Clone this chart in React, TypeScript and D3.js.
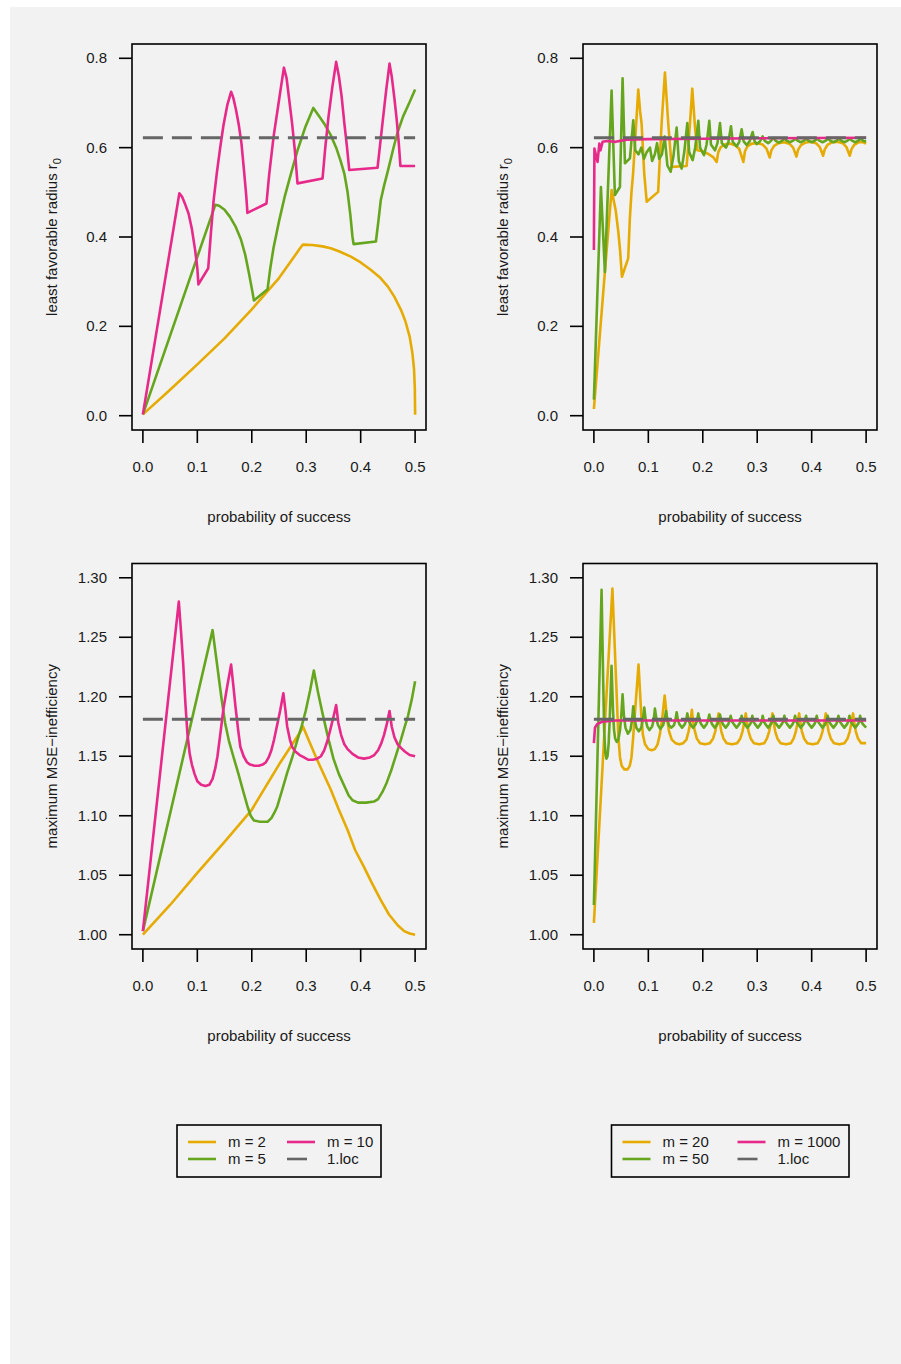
import React from 'react';
import * as d3 from 'd3';

type Pt = [number, number];

const COLORS = { m2: '#E6AB02', m5: '#66A61E', m10: '#E7298A', loc: '#666666' };

const xTicks = [0, 0.1, 0.2, 0.3, 0.4, 0.5];
const rTicks = [0, 0.2, 0.4, 0.6, 0.8];
const effTicks = [1.0, 1.05, 1.1, 1.15, 1.2, 1.25, 1.3];

const locRadius = 0.622;
const locEff = 1.181;

// ---- top-left: least favorable radius, small m ----
const rM2: Pt[] = [[0,0.003],[0.05,0.058],[0.1,0.115],[0.15,0.173],[0.2,0.238],[0.25,0.308],[0.29,0.377],[0.294,0.383],[0.311,0.382],[0.33,0.379],[0.345,0.375],[0.36,0.368],[0.382,0.356],[0.4,0.343],[0.419,0.326],[0.435,0.31],[0.45,0.289],[0.462,0.266],[0.474,0.237],[0.482,0.212],[0.49,0.177],[0.495,0.14],[0.498,0.105],[0.4995,0.06],[0.5,0.002]];
const rM5: Pt[] = [[0,0.003],[0.133,0.472],[0.14,0.47],[0.15,0.461],[0.16,0.445],[0.17,0.424],[0.18,0.395],[0.188,0.36],[0.195,0.318],[0.2,0.285],[0.204,0.258],[0.229,0.283],[0.234,0.33],[0.24,0.376],[0.25,0.435],[0.26,0.488],[0.272,0.542],[0.284,0.594],[0.298,0.645],[0.313,0.689],[0.325,0.668],[0.335,0.65],[0.345,0.628],[0.355,0.6],[0.363,0.571],[0.37,0.542],[0.376,0.5],[0.381,0.45],[0.385,0.4],[0.387,0.384],[0.428,0.39],[0.433,0.44],[0.437,0.483],[0.443,0.515],[0.45,0.548],[0.46,0.598],[0.468,0.635],[0.478,0.67],[0.49,0.702],[0.5,0.73]];
const rM10: Pt[] = [[0,0.003],[0.067,0.498],[0.072,0.49],[0.078,0.472],[0.084,0.452],[0.09,0.418],[0.096,0.37],[0.1,0.33],[0.102,0.294],[0.12,0.33],[0.125,0.41],[0.13,0.483],[0.136,0.545],[0.142,0.6],[0.148,0.65],[0.155,0.695],[0.162,0.725],[0.166,0.712],[0.171,0.685],[0.176,0.652],[0.181,0.61],[0.186,0.545],[0.19,0.49],[0.192,0.454],[0.227,0.475],[0.232,0.54],[0.24,0.624],[0.25,0.706],[0.259,0.779],[0.264,0.755],[0.269,0.705],[0.274,0.655],[0.279,0.595],[0.284,0.52],[0.33,0.531],[0.335,0.6],[0.341,0.67],[0.348,0.736],[0.355,0.792],[0.36,0.76],[0.365,0.715],[0.37,0.655],[0.375,0.6],[0.379,0.55],[0.431,0.555],[0.436,0.61],[0.441,0.665],[0.447,0.73],[0.453,0.788],[0.457,0.76],[0.462,0.71],[0.466,0.665],[0.47,0.61],[0.473,0.559],[0.5,0.559]];

// ---- top-right: least favorable radius, large m ----
const rM20: Pt[] = [[0,0.015],[0.02,0.319],[0.0325,0.505],[0.04,0.46],[0.045,0.41],[0.048,0.371],[0.0515,0.311],[0.063,0.352],[0.066,0.44],[0.069,0.5],[0.072,0.542],[0.077,0.64],[0.0815,0.73],[0.085,0.68],[0.0876,0.654],[0.0925,0.542],[0.097,0.479],[0.118,0.501],[0.1244,0.654],[0.1305,0.768],[0.1366,0.654],[0.1428,0.557],[0.1704,0.559],[0.1765,0.654],[0.1807,0.732],[0.1857,0.646],[0.19,0.594],[0.2,0.592],[0.21,0.586],[0.219,0.579],[0.2255,0.568],[0.2285,0.59],[0.233,0.601],[0.24,0.607],[0.25,0.609],[0.26,0.605],[0.267,0.597],[0.2745,0.568],[0.2775,0.592],[0.282,0.603],[0.29,0.609],[0.3,0.61],[0.31,0.607],[0.317,0.598],[0.323,0.578],[0.326,0.594],[0.331,0.604],[0.339,0.61],[0.349,0.612],[0.359,0.609],[0.366,0.6],[0.372,0.58],[0.375,0.595],[0.38,0.605],[0.388,0.611],[0.398,0.613],[0.408,0.61],[0.415,0.601],[0.421,0.582],[0.424,0.596],[0.429,0.606],[0.437,0.612],[0.447,0.613],[0.457,0.61],[0.464,0.601],[0.47,0.582],[0.473,0.596],[0.478,0.606],[0.486,0.612],[0.495,0.612],[0.5,0.609]];
const rM50: Pt[] = [[0,0.036],[0.0129,0.512],[0.0202,0.322],[0.0325,0.728],[0.0386,0.494],[0.0478,0.512],[0.0527,0.755],[0.057,0.565],[0.0662,0.576],[0.0723,0.661],[0.076,0.594],[0.082,0.585],[0.087,0.6],[0.092,0.575],[0.097,0.59],[0.103,0.6],[0.107,0.57],[0.112,0.585],[0.116,0.61],[0.12,0.575],[0.125,0.585],[0.13,0.625],[0.135,0.56],[0.141,0.546],[0.146,0.58],[0.152,0.645],[0.156,0.57],[0.1612,0.553],[0.166,0.59],[0.1716,0.655],[0.175,0.59],[0.1814,0.572],[0.186,0.6],[0.1918,0.66],[0.195,0.6],[0.2022,0.583],[0.207,0.607],[0.212,0.66],[0.215,0.607],[0.2224,0.594],[0.227,0.61],[0.2316,0.655],[0.235,0.61],[0.2426,0.6],[0.247,0.612],[0.2518,0.648],[0.255,0.613],[0.2622,0.603],[0.267,0.613],[0.2714,0.641],[0.275,0.614],[0.2806,0.606],[0.286,0.614],[0.2916,0.635],[0.295,0.615],[0.299,0.608],[0.305,0.614],[0.31,0.625],[0.314,0.615],[0.32,0.61],[0.325,0.615],[0.33,0.622],[0.334,0.615],[0.34,0.611],[0.345,0.615],[0.35,0.62],[0.355,0.615],[0.36,0.612],[0.365,0.615],[0.37,0.62],[0.375,0.615],[0.38,0.612],[0.385,0.615],[0.39,0.62],[0.395,0.615],[0.4,0.612],[0.405,0.615],[0.41,0.62],[0.415,0.615],[0.42,0.612],[0.425,0.615],[0.43,0.62],[0.435,0.615],[0.44,0.612],[0.445,0.615],[0.45,0.62],[0.455,0.615],[0.46,0.612],[0.465,0.615],[0.47,0.62],[0.475,0.615],[0.48,0.612],[0.485,0.615],[0.49,0.62],[0.495,0.615],[0.5,0.614]];
const rM1000: Pt[] = [[0,0.371],[0.001,0.598],[0.0067,0.568],[0.01,0.609],[0.012,0.594],[0.016,0.613],[0.025,0.615],[0.04,0.613],[0.06,0.618],[0.1,0.619],[0.2,0.62],[0.3,0.621],[0.5,0.622]];

// ---- bottom-left: maximum MSE-inefficiency, small m ----
const eM2: Pt[] = [[0,1.0],[0.05,1.025],[0.1,1.052],[0.15,1.078],[0.2,1.105],[0.25,1.143],[0.29,1.171],[0.294,1.175],[0.305,1.163],[0.32,1.147],[0.345,1.122],[0.36,1.105],[0.376,1.088],[0.39,1.071],[0.406,1.057],[0.42,1.044],[0.437,1.029],[0.452,1.017],[0.468,1.008],[0.48,1.003],[0.49,1.001],[0.5,1.0]];
const eM5: Pt[] = [[0,1.003],[0.128,1.256],[0.136,1.228],[0.144,1.2],[0.151,1.178],[0.158,1.163],[0.166,1.15],[0.175,1.136],[0.184,1.121],[0.192,1.108],[0.198,1.1],[0.204,1.096],[0.215,1.095],[0.229,1.095],[0.236,1.098],[0.242,1.103],[0.247,1.108],[0.256,1.122],[0.265,1.136],[0.275,1.15],[0.284,1.164],[0.292,1.176],[0.299,1.188],[0.307,1.205],[0.314,1.222],[0.322,1.203],[0.33,1.186],[0.34,1.166],[0.35,1.148],[0.36,1.135],[0.37,1.125],[0.378,1.117],[0.385,1.113],[0.395,1.111],[0.41,1.111],[0.425,1.112],[0.432,1.114],[0.44,1.12],[0.448,1.128],[0.456,1.138],[0.465,1.151],[0.474,1.164],[0.481,1.175],[0.487,1.184],[0.494,1.198],[0.5,1.213]];
const eM10: Pt[] = [[0,1.003],[0.066,1.28],[0.07,1.255],[0.074,1.228],[0.078,1.195],[0.082,1.168],[0.086,1.152],[0.09,1.143],[0.095,1.135],[0.1,1.129],[0.107,1.126],[0.115,1.125],[0.122,1.126],[0.128,1.131],[0.133,1.14],[0.137,1.15],[0.142,1.168],[0.148,1.19],[0.155,1.209],[0.162,1.227],[0.166,1.21],[0.17,1.192],[0.175,1.172],[0.179,1.158],[0.185,1.15],[0.191,1.145],[0.197,1.143],[0.205,1.142],[0.213,1.142],[0.22,1.143],[0.226,1.145],[0.231,1.149],[0.236,1.155],[0.241,1.164],[0.246,1.175],[0.252,1.188],[0.258,1.203],[0.262,1.188],[0.265,1.175],[0.27,1.164],[0.274,1.158],[0.28,1.154],[0.288,1.151],[0.296,1.149],[0.304,1.147],[0.312,1.147],[0.32,1.148],[0.327,1.15],[0.333,1.155],[0.339,1.163],[0.344,1.172],[0.35,1.183],[0.355,1.193],[0.359,1.178],[0.364,1.168],[0.37,1.16],[0.376,1.156],[0.385,1.152],[0.395,1.149],[0.406,1.148],[0.417,1.149],[0.425,1.151],[0.432,1.155],[0.438,1.161],[0.443,1.168],[0.448,1.177],[0.453,1.188],[0.457,1.175],[0.462,1.166],[0.468,1.16],[0.474,1.157],[0.481,1.154],[0.49,1.151],[0.5,1.15]];

// ---- bottom-right: maximum MSE-inefficiency, large m ----
const eM20: Pt[] = [[0,1.01],[0.034,1.291],[0.045,1.166],[0.048,1.149],[0.051,1.142],[0.056,1.139],[0.062,1.139],[0.066,1.142],[0.069,1.149],[0.072,1.165],[0.082,1.227],[0.087,1.185],[0.09,1.168],[0.094,1.16],[0.1,1.156],[0.106,1.155],[0.112,1.156],[0.117,1.16],[0.121,1.168],[0.125,1.18],[0.13,1.201],[0.134,1.183],[0.138,1.171],[0.143,1.164],[0.15,1.161],[0.157,1.16],[0.164,1.161],[0.17,1.164],[0.174,1.171],[0.177,1.178],[0.18,1.189],[0.182,1.18],[0.185,1.172],[0.189,1.165],[0.195,1.161],[0.204,1.16],[0.213,1.161],[0.219,1.165],[0.223,1.171],[0.226,1.178],[0.229,1.186],[0.231,1.179],[0.234,1.171],[0.238,1.165],[0.244,1.161],[0.254,1.16],[0.263,1.161],[0.269,1.165],[0.273,1.171],[0.276,1.178],[0.279,1.186],[0.281,1.179],[0.284,1.171],[0.288,1.165],[0.294,1.161],[0.304,1.16],[0.313,1.161],[0.318,1.165],[0.322,1.171],[0.325,1.178],[0.328,1.186],[0.33,1.179],[0.333,1.171],[0.337,1.165],[0.343,1.161],[0.353,1.16],[0.362,1.161],[0.367,1.165],[0.371,1.171],[0.374,1.178],[0.377,1.186],[0.379,1.179],[0.382,1.171],[0.386,1.165],[0.392,1.161],[0.402,1.16],[0.411,1.161],[0.416,1.165],[0.42,1.171],[0.423,1.178],[0.426,1.186],[0.428,1.179],[0.431,1.171],[0.435,1.165],[0.441,1.161],[0.451,1.16],[0.46,1.161],[0.466,1.165],[0.47,1.171],[0.473,1.178],[0.476,1.186],[0.478,1.179],[0.481,1.171],[0.485,1.165],[0.491,1.161],[0.5,1.161]];
const eM50: Pt[] = [[0,1.025],[0.0141,1.29],[0.017,1.215],[0.019,1.17],[0.021,1.153],[0.023,1.148],[0.025,1.15],[0.027,1.16],[0.029,1.18],[0.0324,1.226],[0.035,1.19],[0.037,1.172],[0.039,1.165],[0.042,1.162],[0.045,1.164],[0.048,1.172],[0.05,1.182],[0.0527,1.202],[0.055,1.185],[0.058,1.174],[0.0625,1.169],[0.067,1.172],[0.07,1.18],[0.0723,1.192],[0.075,1.181],[0.078,1.174],[0.0825,1.171],[0.087,1.174],[0.09,1.181],[0.0925,1.191],[0.095,1.181],[0.098,1.175],[0.102,1.172],[0.107,1.175],[0.11,1.181],[0.1121,1.19],[0.115,1.181],[0.118,1.176],[0.122,1.173],[0.127,1.176],[0.13,1.181],[0.1324,1.188],[0.135,1.181],[0.138,1.176],[0.142,1.174],[0.147,1.176],[0.15,1.181],[0.152,1.187],[0.1545,1.18],[0.157,1.177],[0.162,1.174],[0.167,1.177],[0.1695,1.18],[0.1716,1.186],[0.174,1.18],[0.177,1.177],[0.182,1.174],[0.187,1.177],[0.1895,1.18],[0.1918,1.186],[0.194,1.18],[0.197,1.177],[0.202,1.174],[0.207,1.177],[0.2095,1.18],[0.212,1.185],[0.2145,1.18],[0.217,1.177],[0.222,1.174],[0.227,1.177],[0.2295,1.18],[0.2316,1.185],[0.234,1.18],[0.237,1.177],[0.242,1.174],[0.247,1.177],[0.249,1.18],[0.2512,1.184],[0.254,1.179],[0.257,1.177],[0.262,1.174],[0.267,1.177],[0.2695,1.179],[0.2714,1.184],[0.274,1.179],[0.277,1.177],[0.282,1.174],[0.287,1.177],[0.289,1.179],[0.291,1.184],[0.293,1.179],[0.296,1.177],[0.301,1.174],[0.306,1.177],[0.308,1.179],[0.31,1.184],[0.3125,1.179],[0.315,1.177],[0.32,1.174],[0.325,1.177],[0.3275,1.179],[0.3297,1.184],[0.332,1.179],[0.335,1.177],[0.34,1.174],[0.345,1.177],[0.3475,1.179],[0.3499,1.184],[0.352,1.179],[0.355,1.177],[0.36,1.174],[0.365,1.177],[0.367,1.179],[0.3695,1.184],[0.372,1.179],[0.375,1.177],[0.38,1.174],[0.385,1.177],[0.387,1.179],[0.3897,1.184],[0.392,1.179],[0.395,1.177],[0.4,1.174],[0.405,1.177],[0.407,1.179],[0.4093,1.184],[0.412,1.179],[0.415,1.177],[0.42,1.174],[0.425,1.177],[0.427,1.179],[0.4295,1.184],[0.432,1.179],[0.435,1.177],[0.44,1.174],[0.445,1.177],[0.447,1.179],[0.4491,1.184],[0.452,1.179],[0.455,1.177],[0.46,1.174],[0.465,1.177],[0.467,1.179],[0.4694,1.184],[0.472,1.179],[0.475,1.177],[0.48,1.174],[0.485,1.177],[0.487,1.179],[0.489,1.184],[0.4915,1.179],[0.494,1.177],[0.5,1.174]];
const eM1000: Pt[] = [[0,1.161],[0.002,1.174],[0.006,1.177],[0.015,1.179],[0.04,1.18],[0.5,1.18]];

const legendLeft = ['m = 2', 'm = 5', 'm = 10', '1.loc'];
const legendRight = ['m = 20', 'm = 50', 'm = 1000', '1.loc'];

const FONT = 'Liberation Sans, Arial, Helvetica, sans-serif';
const FS = 15;

interface PanelProps {
  left: number; top: number; width: number; height: number;
  yDomain: [number, number]; yTicks: number[]; yFmt: (v: number) => string;
  series: { data: Pt[]; color: string }[];
  locValue: number; yTitle: React.ReactNode;
}

function Panel(p: PanelProps) {
  const padX = p.width / 1.08 * 0.04;
  const padY = p.height / 1.08 * 0.04;
  const x = d3.scaleLinear().domain([0, 0.5]).range([p.left + padX, p.left + p.width - padX]);
  const y = d3.scaleLinear().domain(p.yDomain).range([p.top + p.height - padY, p.top + padY]);
  const line = d3.line<Pt>().x(d => x(d[0])).y(d => y(d[1]));
  const bottom = p.top + p.height;
  const tick = 13;
  return (
    <g>
      {p.series.map((s, i) => (
        <path key={i} d={line(s.data) || ''} fill="none" stroke={s.color} strokeWidth={2.6} strokeLinejoin="round" />
      ))}
      <line x1={x(0)} x2={x(0.5)} y1={y(p.locValue)} y2={y(p.locValue)} stroke={COLORS.loc} strokeWidth={3} strokeDasharray="20 9" />
      <rect x={p.left} y={p.top} width={p.width} height={p.height} fill="none" stroke="#000" strokeWidth={1.6} />
      {xTicks.map(t => (
        <g key={t}>
          <line x1={x(t)} x2={x(t)} y1={bottom} y2={bottom + tick} stroke="#000" strokeWidth={1.6} />
          <text x={x(t)} y={bottom + 42} textAnchor="middle" fontSize={FS} fontFamily={FONT} fill="#1a1a1a">{t.toFixed(1)}</text>
        </g>
      ))}
      {p.yTicks.map(t => (
        <g key={t}>
          <line x1={p.left - tick} x2={p.left} y1={y(t)} y2={y(t)} stroke="#000" strokeWidth={1.6} />
          <text x={p.left - 25} y={y(t) + 5} textAnchor="end" fontSize={FS} fontFamily={FONT} fill="#1a1a1a">{p.yFmt(t)}</text>
        </g>
      ))}
      <text x={p.left + p.width / 2} y={bottom + 92} textAnchor="middle" fontSize={FS} fontFamily={FONT} fill="#1a1a1a">probability of success</text>
      <text transform={`translate(${p.left - 75},${p.top + p.height / 2}) rotate(-90)`} textAnchor="middle" fontSize={FS} fontFamily={FONT} fill="#1a1a1a">{p.yTitle}</text>
    </g>
  );
}

function Legend({ left, top, width, labels, colors, col2 }: { left: number; top: number; width: number; labels: string[]; colors: string[]; col2: number }) {
  const rows = [top + 17, top + 34];
  const items = [0, 1, 2, 3].map(i => ({ col: Math.floor(i / 2), row: i % 2 }));
  return (
    <g>
      <rect x={left} y={top} width={width} height={52} fill="none" stroke="#000" strokeWidth={1.6} />
      {items.map((it, i) => {
        const lx = left + 11 + it.col * col2;
        return (
          <g key={i}>
            <line x1={lx} x2={lx + (i === 3 ? 20 : 28)} y1={rows[it.row]} y2={rows[it.row]} stroke={colors[i]} strokeWidth={2.6} />
            <text x={lx + 40} y={rows[it.row] + 5} fontSize={FS} fontFamily={FONT} fill="#1a1a1a">{labels[i]}</text>
          </g>
        );
      })}
    </g>
  );
}

export default function App() {
  const fmtR = (v: number) => v.toFixed(1);
  const fmtE = (v: number) => v.toFixed(2);
  const rTitle = <>least favorable radius r<tspan fontSize={11} dy={4}>0</tspan></>;
  const eTitle = 'maximum MSE\u2212inefficiency';
  const small = [COLORS.m2, COLORS.m5, COLORS.m10];
  return (
    <svg width={901} height={1364} style={{ position: 'absolute', left: 0, top: 0 }}>
      <rect x={0} y={0} width={901} height={1364} fill="#fff" />
      <rect x={10} y={7} width={891} height={1357} fill="#F2F2F2" />
      <Panel left={132} top={44} width={294} height={386} yDomain={[0, 0.8]} yTicks={rTicks} yFmt={fmtR}
        series={[{ data: rM2, color: small[0] }, { data: rM5, color: small[1] }, { data: rM10, color: small[2] }]} locValue={locRadius} yTitle={rTitle} />
      <Panel left={583} top={44} width={294} height={386} yDomain={[0, 0.8]} yTicks={rTicks} yFmt={fmtR}
        series={[{ data: rM20, color: small[0] }, { data: rM50, color: small[1] }, { data: rM1000, color: small[2] }]} locValue={locRadius} yTitle={rTitle} />
      <Panel left={132} top={563.5} width={294} height={385.5} yDomain={[1, 1.3]} yTicks={effTicks} yFmt={fmtE}
        series={[{ data: eM2, color: small[0] }, { data: eM5, color: small[1] }, { data: eM10, color: small[2] }]} locValue={locEff} yTitle={eTitle} />
      <Panel left={583} top={563.5} width={294} height={385.5} yDomain={[1, 1.3]} yTicks={effTicks} yFmt={fmtE}
        series={[{ data: eM20, color: small[0] }, { data: eM50, color: small[1] }, { data: eM1000, color: small[2] }]} locValue={locEff} yTitle={eTitle} />
      <Legend left={177} top={1125} width={204} labels={legendLeft} colors={[COLORS.m2, COLORS.m5, COLORS.m10, COLORS.loc]} col2={99} />
      <Legend left={611.5} top={1125} width={237.5} labels={legendRight} colors={[COLORS.m2, COLORS.m5, COLORS.m10, COLORS.loc]} col2={115} />
    </svg>
  );
}
